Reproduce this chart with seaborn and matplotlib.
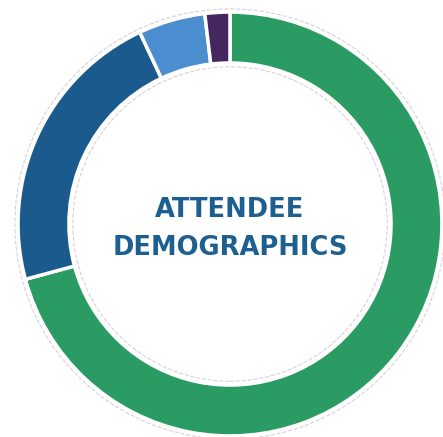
import matplotlib
matplotlib.use("Agg")
import matplotlib.pyplot as plt
import seaborn as sns

# attendee groups, clockwise from 12 o'clock
groups = ["Group A", "Group B", "Group C", "Group D"]
shares = [70.8, 22.2, 5.1, 1.9]
colors = ["#2a9b62", "#1b5a8c", "#4a8ecf", "#45275f"]
title_lines = ["ATTENDEE", "DEMOGRAPHICS"]

sns.set_style("white")

fig = plt.figure(figsize=(4.43, 4.37), dpi=100)
ax = fig.add_axes([0, 0, 1, 1])

ax.pie(shares, labels=None, colors=colors, startangle=90, counterclock=False,
       radius=1.0, wedgeprops=dict(width=0.24, edgecolor="white", linewidth=2.5))

# faint outline around the ring
ax.add_patch(plt.Circle((0, 0), 1.015, fill=False, color="#d4d4d4", lw=0.8, ls="--"))
ax.add_patch(plt.Circle((0, 0), 0.742, fill=False, color="#d4d4d4", lw=0.8, ls="--"))

# centre label, one text per line (baselines)
for line, y in zip(title_lines, [0.033, -0.146]):
    ax.text(0.0, y, line, ha="center", va="baseline", fontsize=18.5,
            fontweight="bold", color="#1e5f92", family="DejaVu Sans")

ax.set_xlim(-1.085, 1.005)
ax.set_ylim(-1.005, 1.057)
ax.axis("off")

fig.savefig("out.png", dpi=100)
plt.close()
